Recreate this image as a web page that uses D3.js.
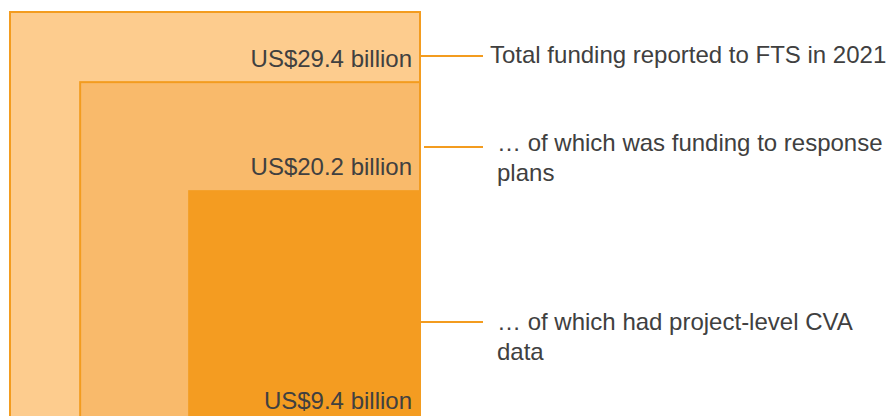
<!DOCTYPE html>
<meta charset="utf-8">
<script src="https://d3js.org/d3.v7.js"></script>
<style>
  body { margin: 0; background: #fff; }
  text { font-family: "Liberation Sans", Arial, sans-serif; fill: #404040; }
</style>
<svg id="chart" width="887" height="416"></svg>
<script>
  const width = 887;
  const height = 416;

  // values in US$ billion
  const values = [29.4, 20.2, 9.4];
  const valueLabels = ["US$29.4 billion", "US$20.2 billion", "US$9.4 billion"];
  const descriptions = [
    ["Total funding reported to FTS in 2021"],
    ["\u2026 of which was funding to response", "plans"],
    ["\u2026 of which had project-level CVA", "data"]
  ];
  const fills = ["#fdcc8e", "#f9ba6b", "#f49c21"];

  const svg = d3.select("#chart");

  // squares sized by area, all anchored bottom-right
  const right = 420;
  const bottom = 422;
  const side = d3.scaleSqrt().domain([0, values[0]]).range([0, 410]);

  const squares = values.map((v, i) => ({
    value: v,
    label: valueLabels[i],
    desc: descriptions[i],
    fill: fills[i],
    s: side(v)
  }));

  svg.append("g")
    .selectAll("rect")
    .data(squares)
    .join("rect")
    .attr("x", d => right - d.s)
    .attr("y", d => bottom - d.s)
    .attr("width", d => d.s)
    .attr("height", d => d.s)
    .attr("fill", d => d.fill)
    .attr("stroke", "#f39c1f")
    .attr("stroke-width", (d, i) => i < 2 ? 2 : 0);

  // value labels inside, top-right of the visible band of each square
  const labelY = [67, 175, 409];
  svg.append("g")
    .selectAll("text")
    .data(squares)
    .join("text")
    .attr("x", 412)
    .attr("y", (d, i) => labelY[i])
    .attr("text-anchor", "end")
    .style("font-size", "24px")
    .text(d => d.label);

  // connectors + descriptions
  const lineY = [56, 147, 322];
  const textY = [63, 151, 330];
  const textX = [490, 497, 497];
  const notes = svg.append("g")
    .selectAll("g")
    .data(squares)
    .join("g");

  notes.append("line")
    .attr("x1", (d, i) => i === 1 ? 424 : right)
    .attr("x2", 483)
    .attr("y1", (d, i) => lineY[i])
    .attr("y2", (d, i) => lineY[i])
    .attr("stroke", "#f39c1f")
    .attr("stroke-width", 2);

  notes.append("text")
    .attr("x", (d, i) => textX[i])
    .attr("y", (d, i) => textY[i])
    .style("font-size", "24px")
    .selectAll("tspan")
    .data((d, i) => d.desc.map(t => ({ t, i })))
    .join("tspan")
    .attr("x", d => textX[d.i])
    .attr("dy", (d, j) => j === 0 ? 0 : 30)
    .text(d => d.t);
</script>
